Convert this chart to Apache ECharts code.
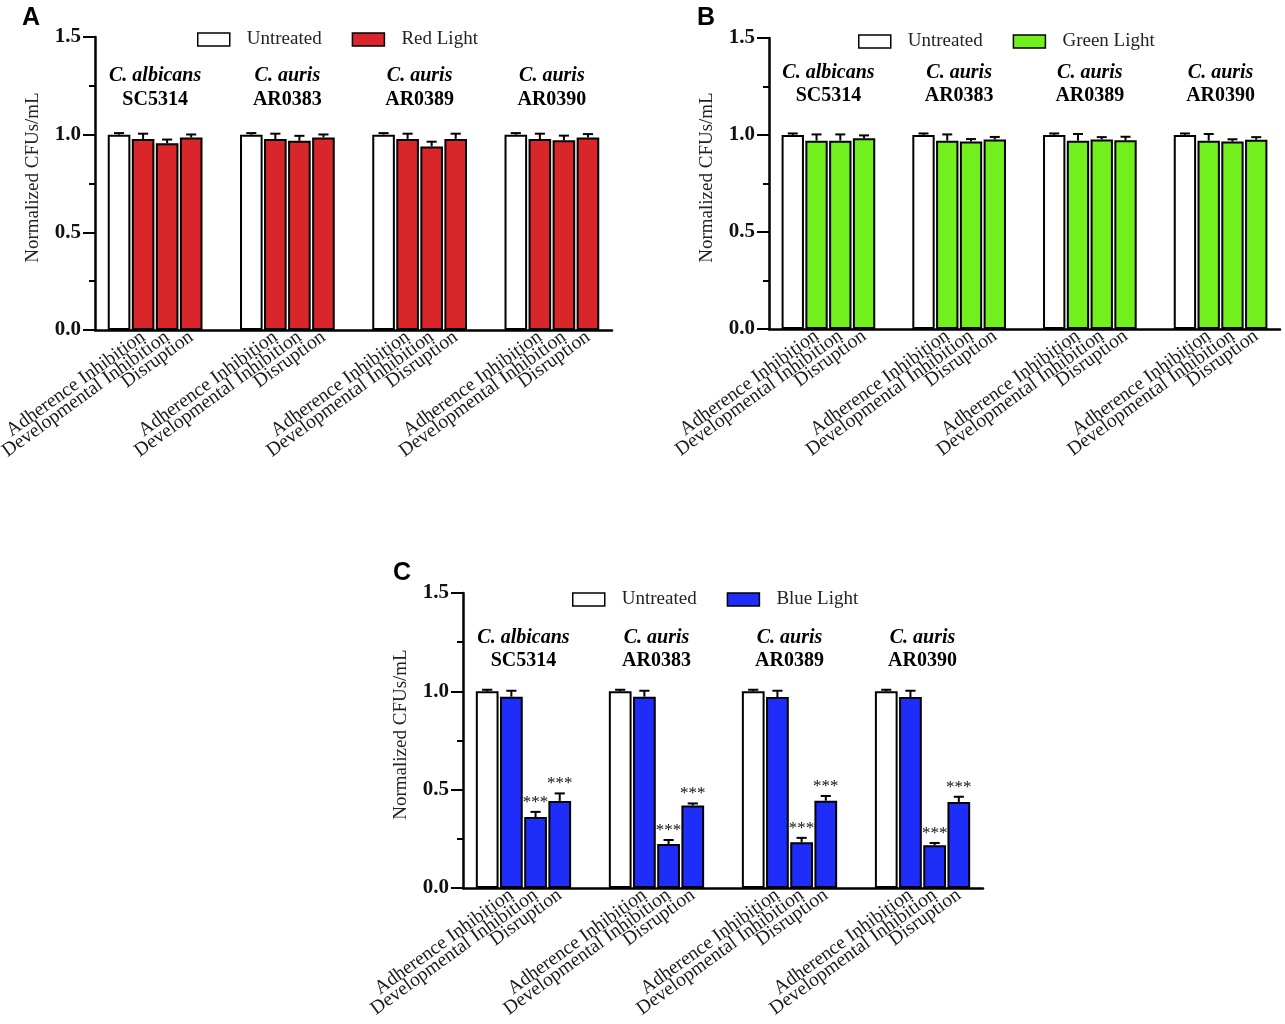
<!DOCTYPE html>
<html><head><meta charset="utf-8">
<script src="https://cdn.jsdelivr.net/npm/echarts@6/dist/echarts.min.js"></script>
<style>html,body{margin:0;padding:0;background:#fff}#c{width:1285px;height:1024px}</style>
</head><body><div id="c"></div>
<script>
// ---- data ----
const species = ['C. albicans', 'C. auris', 'C. auris', 'C. auris'];
const strains = ['SC5314', 'AR0383', 'AR0389', 'AR0390'];
const treatments = ['Adherence Inhibition', 'Developmental Inhibition', 'Disruption'];
const yTickLabels = ['0.0', '0.5', '1.0', '1.5'];
const untreatedMean = [1.0, 1.0, 1.0, 1.0];
const untreatedErr = [0.008, 0.008, 0.008, 0.008];

const redMean = [[0.978, 0.956, 0.986], [0.978, 0.969, 0.986], [0.978, 0.940, 0.978], [0.978, 0.971, 0.986]];
const redErr = [[0.027, 0.019, 0.015], [0.027, 0.025, 0.015], [0.027, 0.024, 0.027], [0.027, 0.024, 0.017]];

const greenMean = [[0.971, 0.971, 0.983], [0.971, 0.967, 0.977], [0.971, 0.977, 0.973], [0.971, 0.966, 0.976]];
const greenErr = [[0.032, 0.032, 0.015], [0.032, 0.012, 0.013], [0.034, 0.012, 0.018], [0.034, 0.012, 0.013]];

const blueMean = [[0.973, 0.361, 0.443], [0.973, 0.224, 0.420], [0.971, 0.232, 0.444], [0.971, 0.217, 0.437]];
const blueErr = [[0.030, 0.026, 0.038], [0.030, 0.020, 0.010], [0.032, 0.023, 0.024], [0.032, 0.012, 0.027]];
const blueSig = [['', '***', '***'], ['', '***', '***'], ['', '***', '***'], ['', '***', '***']];

// ---- layout ----
const SERIF = "'Liberation Serif','Times New Roman',serif";
const NCAT = 44; // half-bar slots
const barIdx = (g, k) => 2 + g * 11 + 2 * k;   // k=0 untreated, 1..3 treatments
const groupCenter = g => 5 + g * 11;

const cats = [];
const catLabel = {};
for (let i = 0; i < NCAT; i++) cats.push('s' + i);
for (let g = 0; g < 4; g++) for (let k = 1; k <= 3; k++) catLabel['s' + barIdx(g, k)] = treatments[k - 1];

const panels = [
  { letter: 'A', light: 'Red Light', color: '#D9262B', mean: redMean, err: redErr, sig: null,
    grid: { left: 95, top: 37, width: 517, height: 293 }, legend: { left: 197, top: 30 },
    letterPos: [22, 6], speciesY: 1.30, strainY: 1.18 },
  { letter: 'B', light: 'Green Light', color: '#72F01E', mean: greenMean, err: greenErr, sig: null,
    grid: { left: 769, top: 38, width: 511, height: 291 }, legend: { left: 858, top: 32 },
    letterPos: [697, 6], speciesY: 1.32, strainY: 1.20 },
  { letter: 'C', light: 'Blue Light', color: '#1F2DF8', mean: blueMean, err: blueErr, sig: blueSig,
    grid: { left: 463, top: 593, width: 520, height: 295 }, legend: { left: 572, top: 590 },
    letterPos: [393, 561], speciesY: 1.27, strainY: 1.155 }
];

const option = { animation: false, backgroundColor: '#fff', grid: [], xAxis: [], yAxis: [], series: [], legend: [], graphic: [] };

panels.forEach((p, pi) => {
  option.grid.push(Object.assign({ containLabel: false, outerBoundsMode: 'none' }, p.grid));
  option.xAxis.push({
    type: 'category', gridIndex: pi, data: cats, boundaryGap: false,
    axisLine: { lineStyle: { color: '#000', width: 2.5 } },
    axisTick: { show: false },
    axisLabel: {
      interval: 0, rotate: 36, margin: 5, fontFamily: SERIF, fontSize: 19.5, color: '#1a1a1a',
      formatter: v => catLabel[v] || ''
    },
    splitLine: { show: false }
  });
  option.yAxis.push({
    type: 'value', gridIndex: pi, min: 0, max: 1.5, interval: 0.5,
    name: 'Normalized CFUs/mL', nameLocation: 'middle', nameRotate: 90, nameGap: 52,
    nameTextStyle: { fontFamily: SERIF, fontSize: 19, color: '#222', padding: [0, 0, 0, 12] },
    axisLine: { show: true, lineStyle: { color: '#000', width: 2.5 } },
    axisTick: { show: true, length: 12, lineStyle: { color: '#000', width: 2 } },
    minorTick: { show: true, splitNumber: 2, length: 6, lineStyle: { color: '#000', width: 2 } },
    axisLabel: { margin: 14, fontFamily: SERIF, fontSize: 21, fontWeight: 'bold', color: '#111',
      formatter: v => yTickLabels[Math.round(v / 0.5)] },
    splitLine: { show: false }, minorSplitLine: { show: false }
  });

  const unt = new Array(NCAT).fill('-');
  const trt = new Array(NCAT).fill('-');
  const errData = [], sigText = [];
  for (let g = 0; g < 4; g++) {
    unt[barIdx(g, 0)] = untreatedMean[g];
    errData.push([barIdx(g, 0), untreatedMean[g], untreatedErr[g]]); sigText.push('');
    for (let k = 1; k <= 3; k++) {
      trt[barIdx(g, k)] = p.mean[g][k - 1];
      errData.push([barIdx(g, k), p.mean[g][k - 1], p.err[g][k - 1]]);
      sigText.push(p.sig ? p.sig[g][k - 1] : '');
    }
  }
  const barCommon = { type: 'bar', xAxisIndex: pi, yAxisIndex: pi, barWidth: '188%', barGap: '-100%' };
  option.series.push(Object.assign({}, barCommon, { name: 'Untreated', data: unt,
    itemStyle: { color: '#ffffff', borderColor: '#000', borderWidth: 2 } }));
  option.series.push(Object.assign({}, barCommon, { name: p.light, data: trt,
    itemStyle: { color: p.color, borderColor: '#000', borderWidth: 2 } }));

  option.series.push({
    type: 'custom', xAxisIndex: pi, yAxisIndex: pi, z: 5, data: errData, silent: true,
    renderItem: (params, api) => {
      const x = api.value(0), m = api.value(1), e = api.value(2);
      const p0 = api.coord([x, m]), p1 = api.coord([x, m + e]);
      const half = api.size([1, 0])[0] * 0.42;
      const ch = [
        { type: 'line', shape: { x1: p0[0], y1: p0[1], x2: p1[0], y2: p1[1] }, style: { stroke: '#000', lineWidth: 2 } },
        { type: 'line', shape: { x1: p1[0] - half, y1: p1[1], x2: p1[0] + half, y2: p1[1] }, style: { stroke: '#000', lineWidth: 2 } }
      ];
      const s = sigText[params.dataIndex];
      if (s) ch.push({ type: 'text', x: p1[0], y: p1[1] - 1,
        style: { text: s, fontFamily: SERIF, fontSize: 17, fill: '#111', align: 'center', verticalAlign: 'bottom' } });
      return { type: 'group', children: ch };
    }
  });

  option.series.push({
    type: 'custom', xAxisIndex: pi, yAxisIndex: pi, z: 6, silent: true,
    data: [0, 1, 2, 3].map(g => [groupCenter(g), g]),
    renderItem: (params, api) => {
      const g = params.dataIndex;
      const c1 = api.coord([api.value(0), p.speciesY]);
      const c2 = api.coord([api.value(0), p.strainY]);
      return { type: 'group', children: [
        { type: 'text', x: c1[0], y: c1[1], style: { text: species[g], fontFamily: SERIF, fontSize: 20,
          fontWeight: 'bold', fontStyle: 'italic', fill: '#000', align: 'center', verticalAlign: 'middle' } },
        { type: 'text', x: c2[0], y: c2[1], style: { text: strains[g], fontFamily: SERIF, fontSize: 20,
          fontWeight: 'bold', fill: '#000', align: 'center', verticalAlign: 'middle' } }
      ] };
    }
  });

  option.legend.push({
    data: ['Untreated', p.light], left: p.legend.left, top: p.legend.top, orient: 'horizontal', padding: 0,
    icon: 'rect', itemWidth: 32, itemHeight: 13, itemGap: 30, selectedMode: false,
    itemStyle: { borderColor: '#000', borderWidth: 1.5 },
    textStyle: { fontFamily: SERIF, fontSize: 19, color: '#222', padding: [0, 0, 0, 12] }
  });

  option.graphic.push({ type: 'text', left: p.letterPos[0], top: p.letterPos[1],
    style: { text: p.letter, fontFamily: "'Liberation Sans',Arial,sans-serif", fontWeight: 'bold', fontSize: 25, fill: '#000' } });
});

const chart = echarts.init(document.getElementById('c'), null, { renderer: 'canvas' });
chart.setOption(option);
</script>
</body></html>
